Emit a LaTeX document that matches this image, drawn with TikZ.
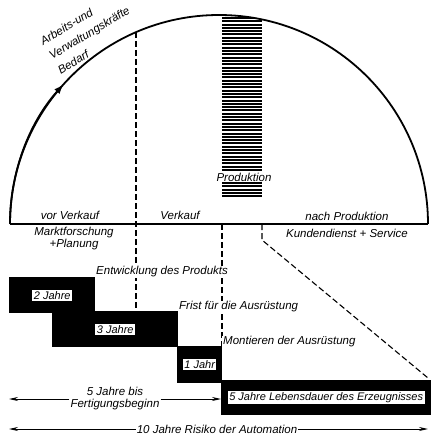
\documentclass[tikz,border=0pt]{standalone}
\usepackage{fontspec}
\setmainfont{Liberation Sans}
\usetikzlibrary{arrows.meta}

\begin{document}
\begin{tikzpicture}[
    x=1pt, y=-1pt,
    lbl/.style={font=\itshape\fontsize{11.5}{12}\selectfont, inner sep=1pt},
    bar/.style={rectangle, fill=black, anchor=north west, inner sep=0pt},
    jahr/.style={fill=white, font=\itshape\fontsize{11}{12}\selectfont, inner sep=1.5pt},
    dashline/.style={dash pattern=on 6pt off 3pt, line width=1.1pt},
    arrow/.style={-{Stealth[length=9pt,width=4pt]}, line width=0.9pt}
]
    \useasboundingbox (0,0) rectangle (431,436);

    % Halbkreis
    \draw[line width=1.8pt] (10,224) arc (180:360:209);
    \draw[line width=1.8pt, -{Latex[length=10pt,width=7pt]}] (10,224) arc (180:222:209);
    \draw[line width=1.4pt] (10,224) -- (428,224);

    % Produktion
    \begin{scope}
        \clip (10,224) arc (180:360:209) -- cycle;
        \foreach \y in {18,21.3,...,197}
            \draw[line width=2pt] (222,\y) -- (262,\y);
    \end{scope}

    % Phasen
    \node[lbl] (vorverk) at (70,215) {vor Verkauf};
    \node[lbl] (verk) at (180,215) {Verkauf};
    \node[lbl] (nachprod) at (347,216) {nach Produktion};
    \node[lbl, align=center] (markt) at (74,239) {Marktforschung\\+Planung};
    \node[lbl] (kunden) at (347,233) {Kundendienst + Service};
    \node[lbl, fill=white] (prod) at (244,177) {Produktion};
    \node[lbl, rotate=31, align=left, anchor=west, font=\itshape\fontsize{11.5}{17}\selectfont]
        (bedarf) at (49,57) {Arbeits-und\\Verwaltungskräfte\\Bedarf};

    % Trennlinien
    \coordinate (vk1) at (136,32);
    \coordinate (vk2) at (222,224);
    \coordinate (vk3) at (262,224);
    \coordinate (knick) at (262,240);
    \coordinate (ende) at (428,378);

    % Fristen
    \node[bar, minimum width=86pt, minimum height=36pt] (bar2) at (9,277) {};
    \node[bar, minimum width=126pt, minimum height=36pt] (bar3) at (52,311) {};
    \node[bar, minimum width=45pt, minimum height=37pt] (bar1) at (177,346) {};
    \node[bar, minimum width=210pt, minimum height=35pt] (bar5) at (221,380) {};

    \draw[dashline] (vk1) -- (vk1 |- bar3.north);
    \draw[dashline] (vk2) -- (vk2 |- bar1.north);
    \draw[dashline] (vk3) -- (knick) -- (ende);

    \node[lbl, anchor=west, fill=white] (entw) at (95,272) {Entwicklung des Produkts};
    \node[lbl, anchor=west, fill=white] (frist) at (178,307) {Frist für die Ausrüstung};
    \node[lbl, anchor=west, fill=white] (mont) at (222,342) {Montieren der Ausrüstung};

    \node[jahr] (lbl2) at (bar2.center) {2 Jahre};
    \node[jahr] (lbl3) at (bar3.center) {3 Jahre};
    \node[jahr] (lbl1) at (bar1.center) {1 Jahr};
    \node[jahr] (lbl5) at (bar5.center) {5 Jahre Lebensdauer des Erzeugnisses};

    % Zeitachsen
    \node[lbl, align=center] (fuenf) at (115,399) {5 Jahre bis\\Fertigungsbeginn};
    \node[lbl] (zehn) at (217,429) {10 Jahre Risiko der Automation};
    \coordinate (links5) at (9,399);
    \coordinate (links10) at (9,429);
    \coordinate (rechts10) at (428,429);

    \draw[arrow] (fuenf.west) -- (links5);
    \draw[arrow] (fuenf.east) -- (fuenf.east -| bar5.west);
    \draw[arrow] (zehn.west) -- (links10);
    \draw[arrow] (zehn.east) -- (rechts10);
\end{tikzpicture}
\end{document}
